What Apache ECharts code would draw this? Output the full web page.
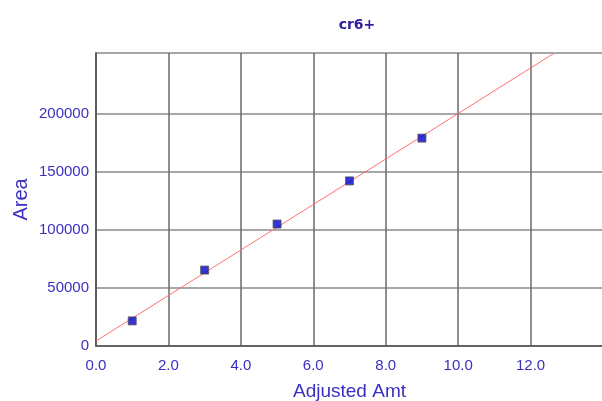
<!DOCTYPE html>
<html>
<head>
<meta charset="utf-8">
<script src="https://cdn.jsdelivr.net/npm/echarts@6/dist/echarts.min.js"></script>
<style>html,body{margin:0;padding:0;background:#fff;}#c{width:602px;height:401px;}</style>
</head>
<body>
<div id="c"></div>
<script>
const title = 'cr6+';
const amounts = [1, 3, 5, 7, 9];
const areas = [21600, 65300, 104900, 142000, 178800];
const fitX = [0, 12.66];
const fitY = [4300, 252000];
const xTicks = [0, 2, 4, 6, 8, 10, 12, 14];
const xTickLabels = [0, 2, 4, 6, 8, 10, 12];
const yTicks = [0, 50000, 100000, 150000, 200000];

const txt = '#3a2fbf';
const gridCol = '#8a8a8a';
const chart = echarts.init(document.getElementById('c'));
chart.setOption({
  animation: false,
  title: {
    text: title, left: 352, top: 13, textAlign: 'center',
    textStyle: {fontFamily: 'DejaVu Sans', fontWeight: 'bold', fontSize: 14, color: '#2b1f9f'}
  },
  grid: {left: 96, right: -1, top: 53, bottom: 55, outerBoundsMode: 'none', containLabel: false,
    show: true, borderColor: gridCol, borderWidth: 1.5},
  xAxis: {
    type: 'value', min: 0, max: 14,
    name: 'Adjusted Amt', nameLocation: 'middle', nameGap: 36, nameMoveOverlap: false,
    nameTextStyle: {fontFamily: 'Liberation Sans', fontSize: 19, color: txt},
    axisLine: {show: true, onZero: false, lineStyle: {color: '#555', width: 1.5}},
    axisTick: {show: false, customValues: xTicks},
    axisLabel: {customValues: xTickLabels, margin: 12, fontFamily: 'Liberation Sans', fontSize: 15, color: txt,
      formatter: v => v.toFixed(1)},
    splitLine: {show: true, lineStyle: {color: '#6a6a6a', width: 1.5}}
  },
  yAxis: {
    type: 'value', min: 0, max: 252000,
    name: 'Area', nameLocation: 'middle', nameGap: 65, nameMoveOverlap: false,
    nameTextStyle: {fontFamily: 'Liberation Sans', fontSize: 20, color: txt},
    axisLine: {show: true, onZero: false, lineStyle: {color: '#555', width: 1.5}},
    axisTick: {show: false, customValues: yTicks},
    axisLabel: {customValues: yTicks, margin: 7, fontFamily: 'Liberation Sans', fontSize: 15, color: txt,
      formatter: v => String(v)},
    splitLine: {show: true, lineStyle: {color: gridCol, width: 1.5}}
  },
  series: [
    {
      type: 'line', data: fitX.map((x, i) => [x, fitY[i]]), symbol: 'none', silent: true,
      lineStyle: {color: '#ff7070', width: 1}, z: 2
    },
    {
      type: 'scatter', data: amounts.map((x, i) => [x, areas[i]]), symbol: 'rect', symbolSize: 8,
      itemStyle: {color: '#0000cc', borderColor: '#555', borderWidth: 1}, z: 3
    }
  ]
});
</script>
</body>
</html>
